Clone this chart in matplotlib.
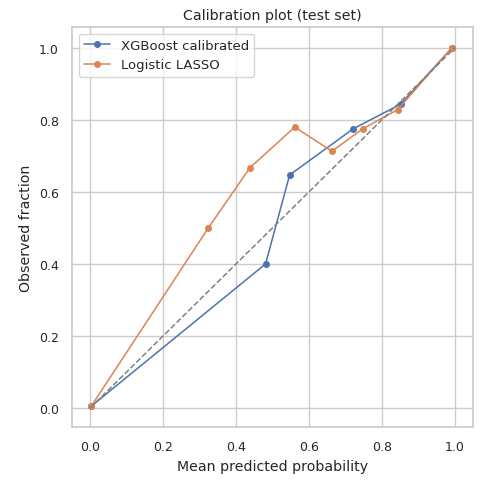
import matplotlib
matplotlib.use("Agg")
import matplotlib.pyplot as plt
import seaborn as sns

xgb_pred = [0.003, 0.481, 0.547, 0.721, 0.852, 0.992]
xgb_obs = [0.005, 0.400, 0.647, 0.775, 0.844, 1.000]
lasso_pred = [0.003, 0.324, 0.438, 0.561, 0.663, 0.747, 0.843, 0.992]
lasso_obs = [0.005, 0.500, 0.667, 0.780, 0.713, 0.775, 0.828, 1.000]
ref = [0, 1]

sns.set_theme(style="whitegrid")
plt.rcParams['font.family'] = ['DejaVu Sans']

fig = plt.figure(figsize=(4.82, 4.81), dpi=100)
ax = fig.add_axes([72/482, 1-428/481, (473-72)/482, (428-28)/481])
ax.plot(xgb_pred, xgb_obs, marker='o', markersize=4, linewidth=1.1, label='XGBoost calibrated')
ax.plot(lasso_pred, lasso_obs, marker='o', markersize=4, linewidth=1.1, label='Logistic LASSO')
ax.plot(ref, ref, linestyle='--', color='gray', linewidth=1.1)
ax.set_xlim(-0.05, 1.05)
ax.set_ylim(-0.053, 1.058)
ax.set_xlabel('Mean predicted probability', fontsize=10.2)
ax.set_ylabel('Observed fraction', fontsize=10.2)
ax.set_title('Calibration plot (test set)', fontsize=10.2)
ax.tick_params(labelsize=9)
ax.legend(loc='upper left', fontsize=9.5)
fig.savefig('out.png', dpi=100)
